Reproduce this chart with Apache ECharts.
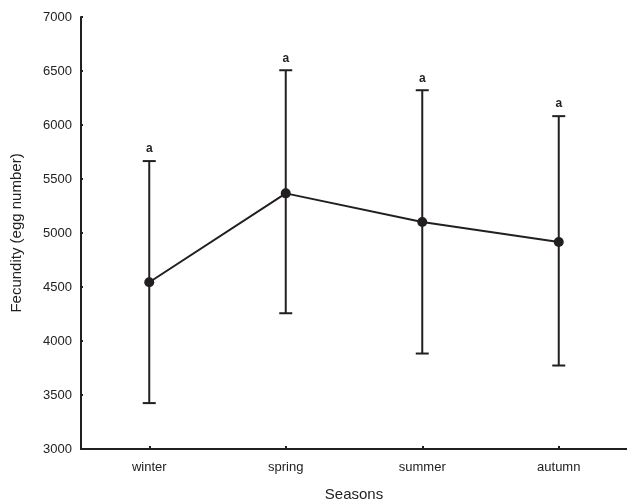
<!DOCTYPE html>
<html>
<head>
<meta charset="utf-8">
<script src="https://cdn.jsdelivr.net/npm/echarts@6/dist/echarts.min.js"></script>
<style>
	html, body { margin: 0; padding: 0; background: #fff; }
	#main { width: 627px; height: 502px; }
</style>
</head>
<body>
<div id="main"></div>
<script>
var seasons = ['winter', 'spring', 'summer', 'autumn'];
var meanData = [4544, 5367, 5102, 4917];
var lowData = [3425, 4257, 3884, 3773];
var highData = [5666, 6507, 6322, 6082];
var groupLabels = ['a', 'a', 'a', 'a'];

var ink = '#231f20';
var chart = echarts.init(document.getElementById('main'));

var errData = [];
for (var i = 0; i < seasons.length; i++) {
	errData.push([i, lowData[i], highData[i]]);
}

function renderErr(params, api) {
	var x = api.value(0);
	var lo = api.coord([x, api.value(1)]);
	var hi = api.coord([x, api.value(2)]);
	var half = 6.5;
	var style = { stroke: ink, lineWidth: 2 };
	return {
		type: 'group',
		children: [
			{ type: 'line', shape: { x1: lo[0], y1: lo[1], x2: hi[0], y2: hi[1] }, style: style },
			{ type: 'line', shape: { x1: hi[0] - half, y1: hi[1], x2: hi[0] + half, y2: hi[1] }, style: style },
			{ type: 'line', shape: { x1: lo[0] - half, y1: lo[1], x2: lo[0] + half, y2: lo[1] }, style: style },
			{
				type: 'text',
				x: hi[0],
				y: hi[1] - 12,
				style: {
					text: groupLabels[params.dataIndex],
					fill: ink,
					font: 'bold 12px "Liberation Sans", Arial, sans-serif',
					align: 'center',
					verticalAlign: 'middle'
				}
			}
		]
	};
}

var option = {
	animation: false,
	grid: {
		left: 81,
		right: 0,
		top: 17,
		bottom: 53,
		containLabel: false,
		outerBoundsMode: 'none'
	},
	xAxis: {
		type: 'category',
		data: seasons,
		name: 'Seasons',
		nameLocation: 'middle',
		nameGap: 38,
		nameTextStyle: { color: '#222', fontSize: 15, fontFamily: 'Liberation Sans' },
		axisLine: { lineStyle: { color: ink, width: 2 } },
		axisTick: { show: true, inside: true, length: 3, alignWithLabel: true, lineStyle: { color: ink, width: 2 } },
		axisLabel: { color: '#222', fontSize: 13, fontFamily: 'Liberation Sans', margin: 12 },
		splitLine: { show: false }
	},
	yAxis: {
		type: 'value',
		min: 3000,
		max: 7000,
		interval: 500,
		name: 'Fecundity (egg number)',
		nameLocation: 'middle',
		nameGap: 57,
		nameTextStyle: { color: '#222', fontSize: 15, fontFamily: 'Liberation Sans' },
		axisLine: { show: true, lineStyle: { color: ink, width: 2 } },
		axisTick: { show: true, inside: true, length: 2, lineStyle: { color: ink, width: 2 } },
		axisLabel: {
			color: '#222',
			fontSize: 13,
			fontFamily: 'Liberation Sans',
			margin: 9,
			formatter: function(v) { return String(v); }
		},
		splitLine: { show: false }
	},
	series: [{
		type: 'custom',
		renderItem: renderErr,
		data: errData,
		z: 2
	}, {
		type: 'line',
		data: meanData,
		symbol: 'circle',
		symbolSize: 10,
		itemStyle: { color: ink },
		lineStyle: { color: ink, width: 2 },
		z: 3
	}]
};
chart.setOption(option);
</script>
</body>
</html>
